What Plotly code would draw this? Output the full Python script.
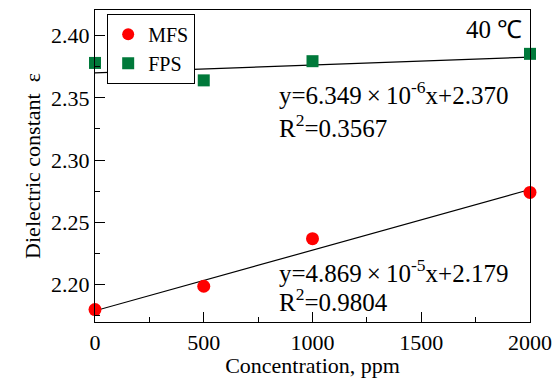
import plotly.graph_objects as go

conc = [0, 500, 1000, 2000]
mfs = [2.180, 2.1987, 2.2369, 2.274]
fps = [2.378, 2.364, 2.3794, 2.3853]

mfs_slope, mfs_int = 4.869e-5, 2.179
fps_slope, fps_int = 6.349e-6, 2.370
fit_x = [0, 2000]

FONT = "Liberation Serif, Times New Roman, serif"
RED = "#FF0000"
GREEN = "#00793A"

fig = go.Figure()
fig.add_trace(go.Scatter(x=fit_x, y=[mfs_int + mfs_slope * v for v in fit_x], mode="lines",
                         line=dict(color="black", width=1.2), showlegend=False, hoverinfo="skip"))
fig.add_trace(go.Scatter(x=fit_x, y=[fps_int + fps_slope * v for v in fit_x], mode="lines",
                         line=dict(color="black", width=1.2), showlegend=False, hoverinfo="skip"))
fig.add_trace(go.Scatter(x=conc, y=mfs, mode="markers", name="MFS", cliponaxis=False,
                         marker=dict(symbol="circle", size=13, color=RED)))
fig.add_trace(go.Scatter(x=conc, y=fps, mode="markers", name="FPS", cliponaxis=False,
                         marker=dict(symbol="square", size=12, color=GREEN)))

axis_common = dict(showline=True, linecolor="black", linewidth=1.2, mirror=True,
                   ticks="inside", ticklen=10, tickwidth=1, tickcolor="black",
                   showgrid=False, zeroline=False, automargin=False,
                   tickfont=dict(family=FONT, size=22, color="black"))

fig.update_xaxes(range=[0, 2000], tickvals=[0, 500, 1000, 1500, 2000],
                 minor=dict(ticks="inside", ticklen=5, dtick=250, tick0=0, tickcolor="black"),
                 title=dict(text="Concentration, ppm", font=dict(family=FONT, size=22, color="black"), standoff=2),
                 **axis_common)
fig.update_yaxes(range=[2.170, 2.4205], tickvals=[2.20, 2.25, 2.30, 2.35, 2.40], tickformat=".2f",
                 minor=dict(ticks="inside", ticklen=5, dtick=0.025, tick0=2.175, tickcolor="black"),
                 title=dict(text="Dielectric constant  ε", font=dict(family=FONT, size=22, color="black"), standoff=4),
                 **axis_common)

ann_font = dict(family=FONT, size=25, color="black")
fig.add_annotation(x=1, y=1, xref="paper", yref="paper", xanchor="right", yanchor="top",
                   xshift=-6, yshift=-4, text="40 ℃", showarrow=False, font=ann_font)
fig.add_annotation(x=0.419, y=0.734, xref="paper", yref="paper", xanchor="left", yanchor="middle",
                   text="y=6.349\u2009×\u200910<sup>-6</sup>x+2.370", showarrow=False, font=ann_font)
fig.add_annotation(x=0.419, y=0.628, xref="paper", yref="paper", xanchor="left", yanchor="middle",
                   text="R<sup>2</sup>=0.3567", showarrow=False, font=ann_font)
fig.add_annotation(x=0.419, y=0.163, xref="paper", yref="paper", xanchor="left", yanchor="middle",
                   text="y=4.869\u2009×\u200910<sup>-5</sup>x+2.179", showarrow=False, font=ann_font)
fig.add_annotation(x=0.419, y=0.07, xref="paper", yref="paper", xanchor="left", yanchor="middle",
                   text="R<sup>2</sup>=0.9804", showarrow=False, font=ann_font)

fig.update_layout(
    width=558, height=378,
    margin=dict(l=95, r=28, t=10, b=56, autoexpand=False),
    paper_bgcolor="white", plot_bgcolor="white",
    legend=dict(x=0.028, y=0.988, xanchor="left", yanchor="top",
                bordercolor="black", borderwidth=1, bgcolor="white",
                font=dict(family=FONT, size=20, color="black"),
                itemsizing="constant", tracegroupgap=0, itemwidth=30),
    showlegend=True,
)

fig.write_html("out.html", config={"displayModeBar": False},
               post_script="document.body.style.margin='0';document.body.style.padding='0';document.body.style.overflow='hidden';")
